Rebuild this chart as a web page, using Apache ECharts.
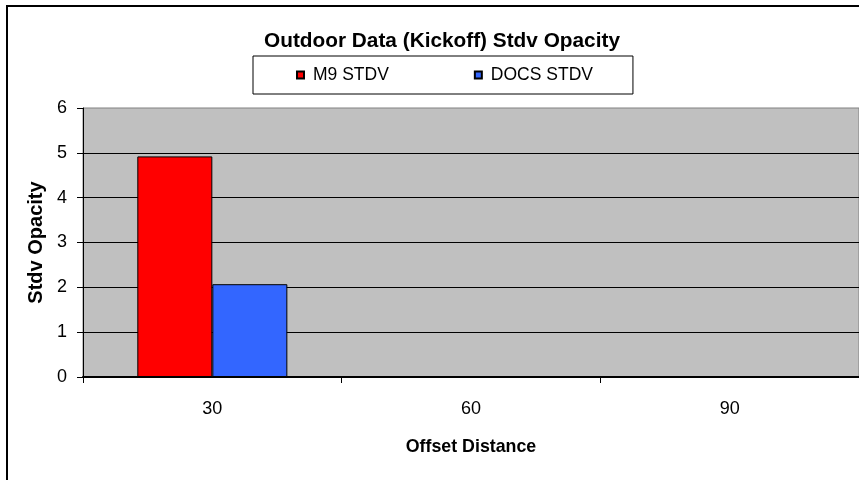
<!DOCTYPE html>
<html>
<head>
<meta charset="utf-8">
<script src="https://cdn.jsdelivr.net/npm/echarts@6/dist/echarts.min.js"></script>
<style>
  html, body { margin: 0; padding: 0; background: #fff; }
  #chart { width: 859px; height: 480px; }
</style>
</head>
<body>
<div id="chart"></div>
<script>
// Offset distances along the x axis
const categories = ['30', '60', '90'];
// Standard deviation of opacity per instrument (no readings at 60 and 90)
const m9Stdv = [4.92, null, null];
const docsStdv = [2.07, null, null];
// Y axis range
const yTicks = { min: 0, max: 6, interval: 1 };

const FONT = '"Liberation Sans", Arial, sans-serif';

const chart = echarts.init(document.getElementById('chart'), null, { renderer: 'canvas' });

chart.setOption({
  backgroundColor: '#ffffff',
  animation: false,
  graphic: [
    {
      type: 'rect',
      shape: { x: 7, y: 6, width: 900, height: 520 },
      style: { fill: 'none', stroke: '#000', lineWidth: 2 },
      z: 100
    }
  ],
  title: {
    text: 'Outdoor Data (Kickoff) Stdv Opacity',
    left: 442,
    top: 31,
    textAlign: 'center',
    padding: 0,
    textStyle: { fontFamily: FONT, fontSize: 20.8, fontWeight: 'bold', color: '#000' }
  },
  legend: {
    left: 253,
    top: 56,
    padding: [9, 40, 9, 43],
    itemGap: 85,
    itemWidth: 7,
    itemHeight: 7,
    borderColor: '#000',
    borderWidth: 1,
    icon: 'rect',
    textStyle: { fontFamily: FONT, fontSize: 17.5, lineHeight: 20, color: '#000', padding: [0, 0, 0, 4] },
    data: ['M9 STDV', 'DOCS STDV']
  },
  grid: {
    left: 83,
    top: 108,
    width: 785,
    height: 269,
    show: true,
    backgroundColor: '#c0c0c0',
    borderColor: '#808080',
    borderWidth: 1
  },
  xAxis: {
    type: 'category',
    data: categories,
    name: 'Offset Distance',
    nameLocation: 'middle',
    nameGap: 61,
    nameTextStyle: { fontFamily: FONT, fontSize: 17.8, fontWeight: 'bold', color: '#000' },
    axisLine: { lineStyle: { color: '#000', width: 2 } },
    axisTick: { show: true, length: 6, lineStyle: { color: '#000', width: 1 } },
    axisLabel: { fontFamily: FONT, fontSize: 18, color: '#000', margin: 23 },
    splitLine: { show: false }
  },
  yAxis: {
    type: 'value',
    min: yTicks.min,
    max: yTicks.max,
    interval: yTicks.interval,
    name: 'Stdv Opacity',
    nameLocation: 'middle',
    nameRotate: 90,
    nameGap: 34,
    nameTextStyle: { fontFamily: FONT, fontSize: 20, fontWeight: 'bold', color: '#000' },
    axisLine: { show: true, lineStyle: { color: '#000', width: 1 } },
    axisTick: { show: true, length: 6, lineStyle: { color: '#000', width: 1 } },
    axisLabel: { fontFamily: FONT, fontSize: 18, color: '#000', margin: 16 },
    splitLine: { show: true, showMaxLine: false, lineStyle: { color: '#000', width: 1 } }
  },
  series: [
    {
      name: 'M9 STDV',
      type: 'bar',
      data: m9Stdv,
      barGap: '0%',
      barCategoryGap: '42%',
      itemStyle: { color: '#ff0000', borderColor: '#000', borderWidth: 1 }
    },
    {
      name: 'DOCS STDV',
      type: 'bar',
      data: docsStdv,
      barGap: '0%',
      barCategoryGap: '42%',
      itemStyle: { color: '#3366ff', borderColor: '#000', borderWidth: 1 }
    }
  ]
});
</script>
</body>
</html>
